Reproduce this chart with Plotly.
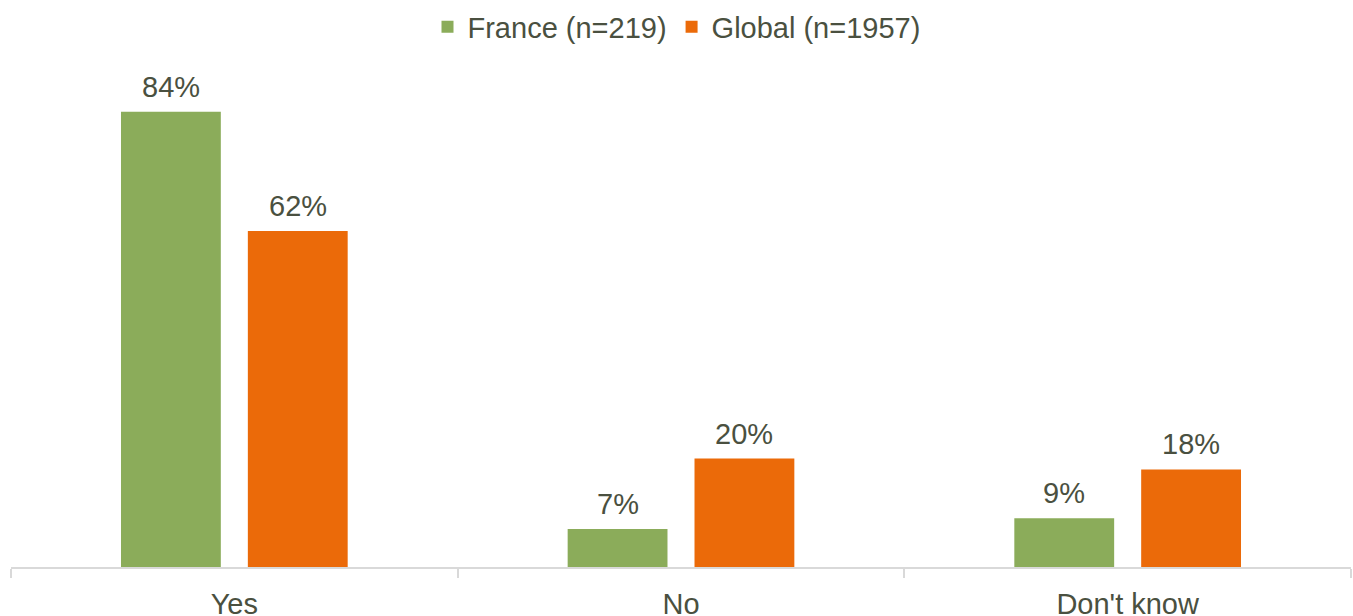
import plotly.graph_objects as go

categories = ["Yes", "No", "Don't know"]
france = [84, 7, 9]
global_ = [62, 20, 18]
series_names = ["France (n=219)", "Global (n=1957)"]
colors = ["#8BAC5A", "#EB6A09"]
text_color = "#4A5040"
font_family = "Liberation Sans, Arial, sans-serif"
fs = 29

fig = go.Figure()
for name, vals, col in zip(series_names, [france, global_], colors):
    fig.add_trace(go.Bar(
        x=categories, y=vals, name=name, marker_color=col,
        marker_line_width=0, hoverinfo="skip",
    ))

plot_w = 1353 - 11 - 2
cat_w = plot_w / len(categories)
bargap = 0.432
slot = cat_w * (1 - bargap) / 2
annotations = []
for i, vals in enumerate([france, global_]):
    shift = (i - 0.5) * slot
    for c, v in zip(categories, vals):
        annotations.append(dict(
            x=c, y=v, xref="x", yref="y", text=f"{v}%", showarrow=False,
            xshift=shift, yshift=7, yanchor="bottom",
            font=dict(size=fs, color=text_color, family=font_family),
        ))

fig.update_layout(
    width=1353, height=616,
    margin=dict(l=11, r=2, t=50, b=49, autoexpand=False),
    paper_bgcolor="white", plot_bgcolor="white",
    barmode="group", bargap=bargap, bargroupgap=0.213,
    font=dict(family=font_family, color=text_color, size=fs),
    legend=dict(orientation="h", x=0.5, xanchor="center", xref="container",
                y=1 - 27 / 616, yanchor="middle", yref="container",
                font=dict(size=fs, color=text_color), itemclick=False,
                traceorder="normal"),
    showlegend=True,
    annotations=annotations,
    xaxis=dict(showline=True, linecolor="#D9D9D9", linewidth=2,
               ticks="outside", tickson="boundaries", ticklen=9, tickcolor="#D9D9D9",
               tickwidth=2, tickfont=dict(size=fs, color=text_color), showgrid=False,
               ticklabelstandoff=10, automargin=False),
    yaxis=dict(range=[0, 95.4], visible=False, showgrid=False, zeroline=False),
)
fig.write_html("out.html", config={"displayModeBar": False},
               post_script="document.body.style.margin='0';")
